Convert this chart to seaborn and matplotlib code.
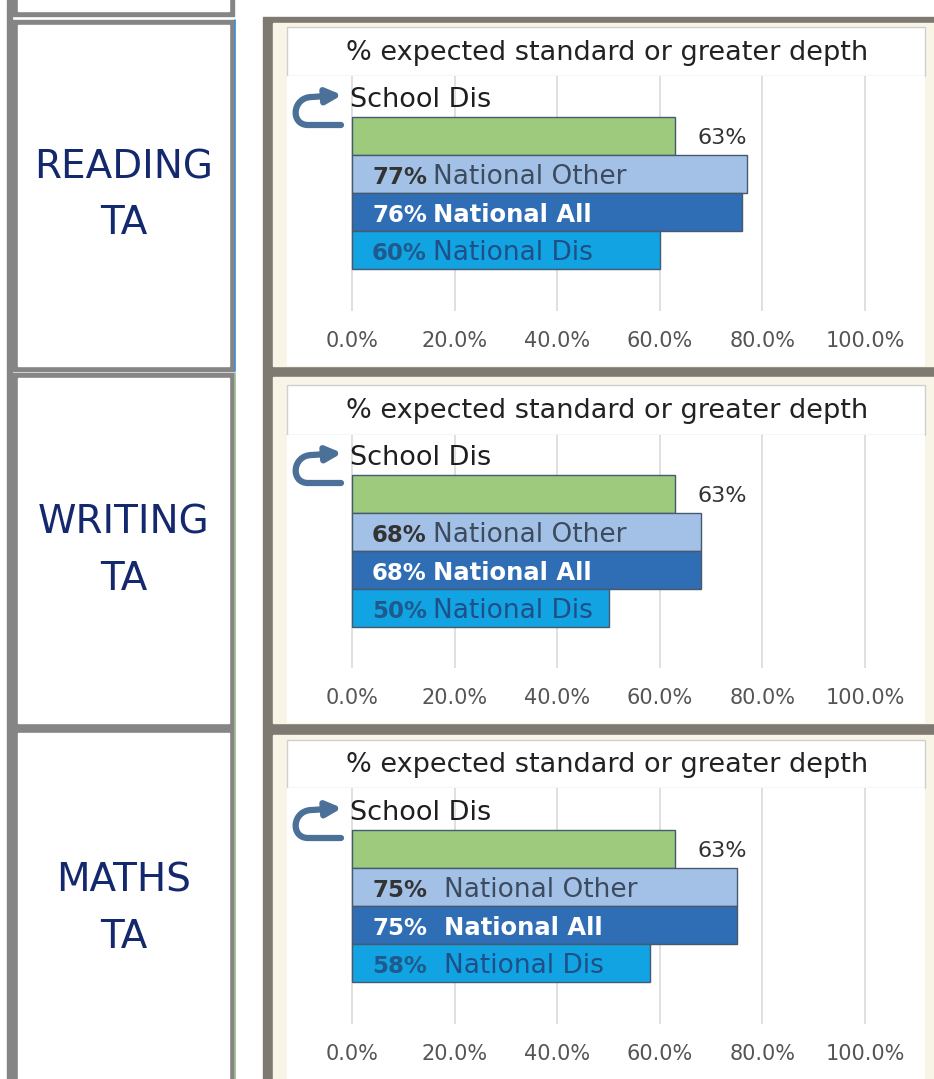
import numpy as np
import pandas as pd
import matplotlib.pyplot as plt
from matplotlib.patches import Rectangle, FancyArrowPatch
from matplotlib.path import Path
import seaborn as sns

sns.set_theme(style="white")
plt.rcParams['font.family'] = ['DejaVu Sans']

# data
subjects = ["READING\nTA", "WRITING\nTA", "MATHS\nTA"]
groups = ["School Dis", "National Other", "National All", "National Dis"]
reading = [63, 77, 76, 60]
writing = [63, 68, 68, 50]
maths = [63, 75, 75, 58]
panel_values = [reading, writing, maths]
bar_colors = ["#9dca7d", "#a3c1e7", "#2f6db5", "#12a3e2"]
name_colors = [None, "#3c4b5e", "white", "#1f4f86"]
xticks = [0, 20, 40, 60, 80, 100]
xtick_labels = ["0.0%", "20.0%", "40.0%", "60.0%", "80.0%", "100.0%"]
title = "% expected standard or greater depth"

W, H = 934, 1079
fig = plt.figure(figsize=(W / 100, H / 100), dpi=100)
fig.patch.set_facecolor("white")

# background layer in pixel coords
bg = fig.add_axes([0, 0, 1, 1])
bg.set_xlim(0, W)
bg.set_ylim(H, 0)
bg.axis("off")

gray = "#858585"
# left table column
bg.add_patch(Rectangle((7, 0), 5, H, color=gray))
cells = [(-20, 16), (20, 371), (373, 728), (728, 1090)]
for y0, y1 in cells:
    bg.add_patch(Rectangle((13, y0), 221, y1 - y0, color=gray))
    bg.add_patch(Rectangle((18, y0 + 5), 211, y1 - y0 - 10, color="white"))
bg.plot([235, 235], [20, 371], color="#3d8fd6", lw=1.2)
bg.plot([235, 235], [373, 1079], color="#9fbf8a", lw=1.2)

for i, s in enumerate(subjects):
    yc = (cells[i + 1][0] + cells[i + 1][1]) / 2
    bg.text(124, yc, s, ha="center", va="center", fontsize=28,
            color="#14286e", linespacing=1.6)

# right frame
bg.add_patch(Rectangle((263, 17), W - 263, H - 17, color="#7f7a71"))
title_top = [27, 385, 740]
title_bot = [76, 435, 788]
green_top = [117, 475, 830]
panel_top = [23, 377, 735]
panel_bot = [366, 723, 1079]
name_x = [15.8, 15.8, 17.9]

x0_px, x1_px = 287, 925
zero_px, scale = 352, 5.13  # pixels for 0% and per 1%
row_px = 38

for p in range(3):
    bg.add_patch(Rectangle((273, panel_top[p]), W - 273, panel_bot[p] - panel_top[p],
                           color="#f9f5e6"))
    bg.add_patch(Rectangle((x0_px, title_top[p]), x1_px - x0_px, title_bot[p] - title_top[p],
                           facecolor="white", edgecolor="#cfcfcf", lw=1))
    bg.text((x0_px + x1_px) / 2 + 1, (title_top[p] + title_bot[p]) / 2 + 1, title,
            ha="center", va="center", fontsize=19.5, color="#222222")

    ax = fig.add_axes([x0_px / W, 1 - panel_bot[p] / H,
                       (x1_px - x0_px) / W, (panel_bot[p] - title_bot[p]) / H])
    df = pd.DataFrame({"group": groups, "value": panel_values[p]})
    sns.barplot(data=df, x="value", y="group", hue="group", palette=bar_colors,
                orient="h", width=1.0, ax=ax, legend=False, saturation=1,
                edgecolor="#465a6e", linewidth=1.0, zorder=3)

    ax.set_xlim((x0_px - zero_px) / scale, (x1_px - zero_px) / scale)
    y_top = (title_bot[p] - green_top[p]) / row_px - 0.5
    y_bot = (panel_bot[p] - green_top[p]) / row_px - 0.5
    ax.set_ylim(y_bot, y_top)
    ax.set_facecolor("white")
    for sp in ax.spines.values():
        sp.set_visible(False)

    grid_end = (panel_bot[p] - 55 - green_top[p]) / row_px - 0.5
    ax.vlines(xticks, y_top, grid_end, color="#dadada", lw=1.2, zorder=1)

    ax.set_xticks(xticks)
    ax.set_xticklabels(xtick_labels)
    ax.tick_params(axis="x", length=0, pad=-25, labelsize=15, labelcolor="#555555")
    ax.set_yticks([])
    ax.set_xlabel("")
    ax.set_ylabel("")

    vals = panel_values[p]
    # school label and value
    ax.text(-0.4, -0.95, groups[0], ha="left", va="center", fontsize=19.5, color="#1e1e1e")
    ax.text(vals[0] + 4.3, 0.05, f"{vals[0]}%", ha="left", va="center",
            fontsize=16, color="#333333")
    for i in range(1, 4):
        c = name_colors[i]
        vc = "white" if i == 2 else ("#333333" if i == 1 else "#1f5a8c")
        w = "bold" if i == 2 else "normal"
        fs = 17.5 if i == 2 else 19
        ax.text(3.9, i + 0.08, f"{vals[i]}%", ha="left", va="center",
                fontsize=16.5, color=vc, fontweight="bold", zorder=5)
        ax.text(name_x[p], i + 0.08, groups[i], ha="left", va="center",
                fontsize=fs, color=c, fontweight=w, zorder=5)

    # curved arrow icon
    def d(px, py):
        return ((px - zero_px) / scale, (py - green_top[p]) / row_px - 0.5)
    codes = [Path.MOVETO, Path.LINETO, Path.CURVE4, Path.CURVE4, Path.CURVE4, Path.LINETO]
    verts = [d(341, green_top[p] + 8), d(308, green_top[p] + 8),
             d(290, green_top[p] + 8), d(292, green_top[p] - 20), d(312, green_top[p] - 20),
             d(342, green_top[p] - 22)]
    arrow = FancyArrowPatch(path=Path(verts, codes), arrowstyle="-|>", mutation_scale=22,
                            lw=4.5, color="#4b7199", transform=ax.transData, zorder=4,
                            clip_on=False)
    ax.add_patch(arrow)

fig.savefig("out.png", dpi=100)
